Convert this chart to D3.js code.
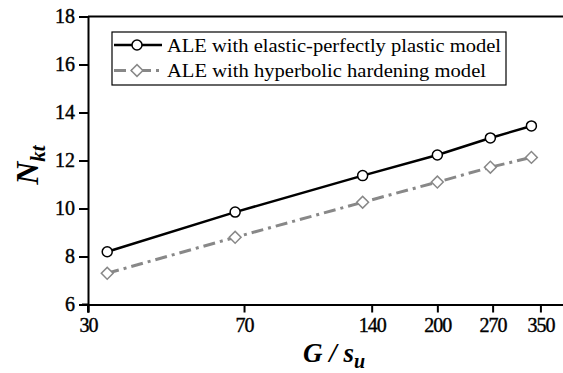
<!DOCTYPE html>
<html>
<head>
<meta charset="utf-8">
<script src="https://cdn.jsdelivr.net/npm/d3@7"></script>
<style>
html,body{margin:0;padding:0;background:#fff;}
svg{display:block;}
svg text{font-family:"Liberation Serif",Tinos,"Times New Roman","DejaVu Serif",serif;}
</style>
</head>
<body>
<div id="chart"></div>
<script>
(function(){

const width = 563;
const height = 373;
const serif = "'Liberation Serif', Tinos, 'Times New Roman', 'DejaVu Serif', serif";

// data (G/su vs Nkt)
const gsu = [33.3, 66.7, 133.3, 200, 266.7, 333.3];
const elasticPlastic = [8.2, 9.85, 11.37, 12.23, 12.94, 13.44];
const hyperbolic = [7.3, 8.8, 10.26, 11.1, 11.72, 12.13];
const xTicks = [30, 70, 140, 200, 270, 350];
const yTicks = [6, 8, 10, 12, 14, 16, 18];
const seriesNames = ["ALE with elastic-perfectly plastic model", "ALE with hyperbolic hardening model"];

const svg = d3.select("#chart")
.append("svg")
.attr("width",width)
.attr("height",height)
.attr("font-family",serif);

const x = d3.scaleLog()
.domain([30,400])
.range([88,565]);

const y = d3.scaleLinear()
.domain([6,18])
.range([304.5,16.5]);

// frame top line
svg.append("line")
.attr("x1",88).attr("x2",width+5)
.attr("y1",y(18)).attr("y2",y(18))
.attr("stroke","#000").attr("stroke-width",2);

// axes
const xAxis = svg.append("g")
.attr("transform",`translate(0,${y(6)})`)
.call(d3.axisBottom(x).tickValues(xTicks).tickFormat(d3.format("d")).tickSizeOuter(0).tickSize(8).tickPadding(5));

const yAxis = svg.append("g")
.attr("transform",`translate(${x(30)},0)`)
.call(d3.axisLeft(y).tickValues(yTicks).tickSizeOuter(0).tickSize(9).tickPadding(4));

[xAxis,yAxis].forEach(g=>{
g.attr("font-family",serif);
g.select(".domain").attr("stroke-width",2);
g.selectAll(".tick line").attr("stroke-width",2);
g.selectAll(".tick text")
.attr("font-size","20px")
.attr("fill","#000")
.attr("stroke","#000")
.attr("stroke-width",0.4);
});
xAxis.selectAll(".tick text").attr("letter-spacing","-1px");

// extend axis lines a bit past the corner
svg.append("line")
.attr("x1",82).attr("x2",88)
.attr("y1",y(6)).attr("y2",y(6))
.attr("stroke","#000").attr("stroke-width",2);
svg.append("line")
.attr("x1",x(30)).attr("x2",x(30))
.attr("y1",y(6)).attr("y2",y(6)+8)
.attr("stroke","#000").attr("stroke-width",2);

// lines
const line = d3.line()
.x((d,i)=>x(gsu[i]))
.y(d=>y(d));

svg.append("path")
.datum(hyperbolic)
.attr("fill","none")
.attr("stroke","#888")
.attr("stroke-width",3)
.attr("stroke-dasharray","12,5,3,5")
.attr("d",line);

svg.append("path")
.datum(elasticPlastic)
.attr("fill","none")
.attr("stroke","#000")
.attr("stroke-width",2.5)
.attr("d",line);

const diamond = d3.symbol().type(d3.symbolSquare).size(70);

svg.selectAll(".dia")
.data(hyperbolic)
.join("path")
.attr("transform",(d,i)=>`translate(${x(gsu[i])},${y(d)}) rotate(45)`)
.attr("d",diamond)
.attr("fill","#fff")
.attr("stroke","#888")
.attr("stroke-width",1.5);

svg.selectAll(".circ")
.data(elasticPlastic)
.join("circle")
.attr("cx",(d,i)=>x(gsu[i]))
.attr("cy",d=>y(d))
.attr("r",5)
.attr("fill","#fff")
.attr("stroke","#000")
.attr("stroke-width",1.5);

// legend
const leg = svg.append("g");
leg.append("rect")
.attr("x",112).attr("y",32)
.attr("width",394).attr("height",53)
.attr("fill","#fff")
.attr("stroke","#000")
.attr("stroke-width",1.2);

const rows = [45,70.5];
leg.append("line")
.attr("x1",114).attr("x2",162).attr("y1",rows[0]).attr("y2",rows[0])
.attr("stroke","#000").attr("stroke-width",2.5);
leg.append("circle")
.attr("cx",137).attr("cy",rows[0]).attr("r",5)
.attr("fill","#fff").attr("stroke","#000").attr("stroke-width",1.5);

leg.append("line")
.attr("x1",114).attr("x2",163).attr("y1",rows[1]).attr("y2",rows[1])
.attr("stroke","#888").attr("stroke-width",3)
.attr("stroke-dasharray","12,5,3,5");
leg.append("path")
.attr("transform",`translate(137,${rows[1]}) rotate(45)`)
.attr("d",diamond)
.attr("fill","#fff").attr("stroke","#888").attr("stroke-width",1.5);

leg.selectAll(".lt")
.data(seriesNames)
.join("text")
.attr("x",167)
.attr("y",(d,i)=>rows[i]+6.5)
.attr("font-size","19px")
.attr("textLength",(d,i)=>i===0?334:319)
.attr("lengthAdjust","spacingAndGlyphs")
.text(d=>d);

// axis titles
const yt = svg.append("text")
.attr("transform","translate(38,165) rotate(-90)")
.attr("text-anchor","middle")
.attr("font-style","italic")
.attr("font-weight","bold");
yt.append("tspan").attr("font-size","32px").text("N");
yt.append("tspan").attr("font-size","21px").attr("dy",7).text("kt");

const xt = svg.append("text")
.attr("x",334)
.attr("y",362)
.attr("text-anchor","middle")
.attr("font-style","italic")
.attr("font-weight","bold");
xt.append("tspan").attr("font-size","27px").text("G / s");
xt.append("tspan").attr("font-size","20px").attr("dy",6).text("u");

})();
</script>
</body>
</html>
